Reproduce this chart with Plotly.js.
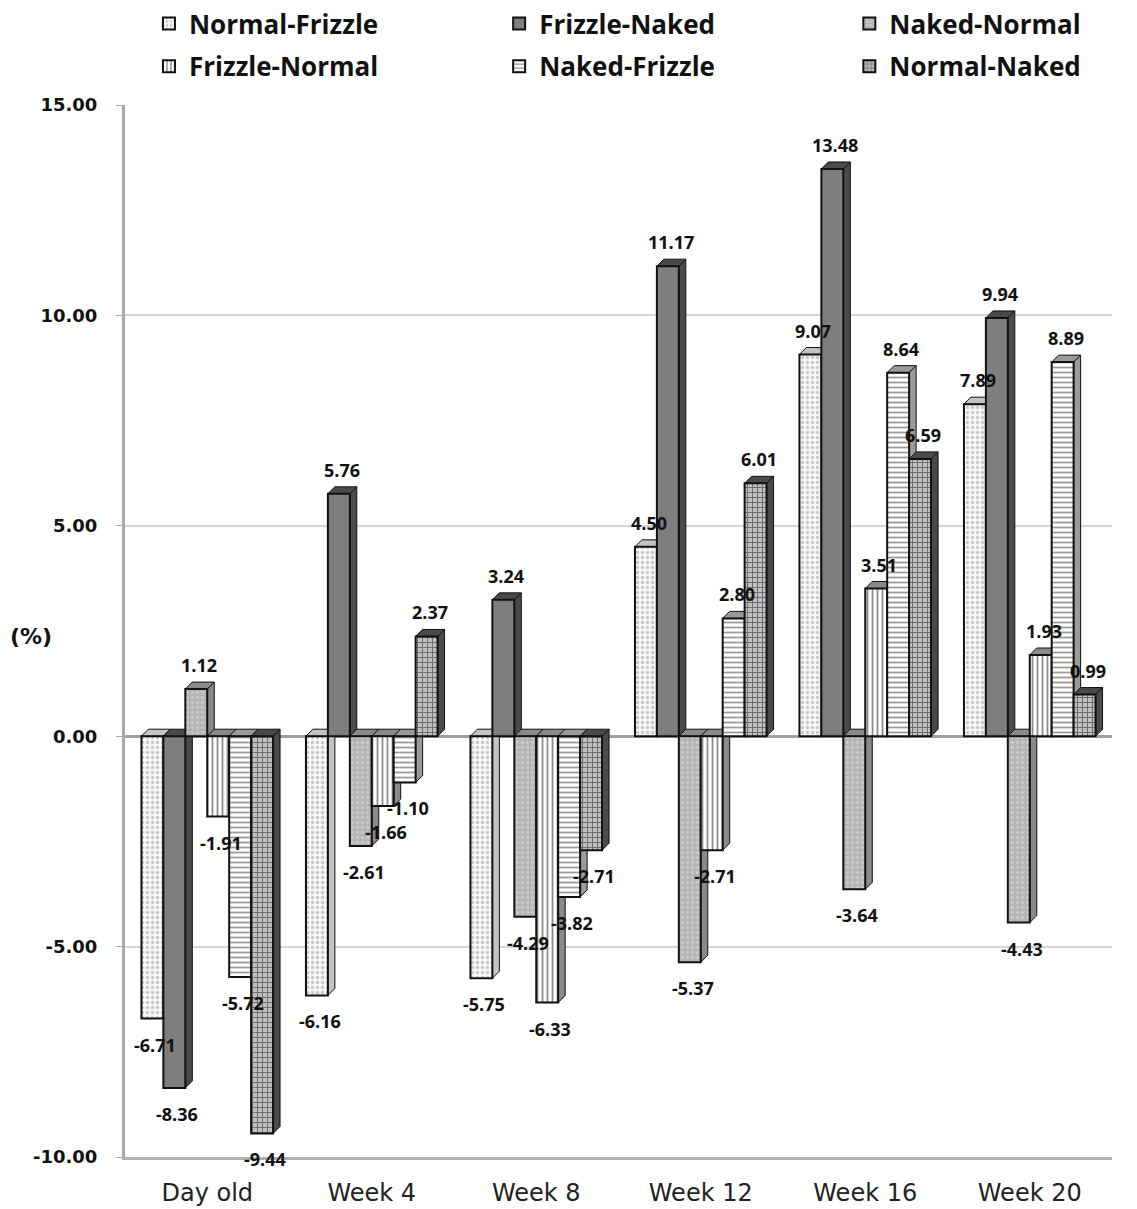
<!DOCTYPE html>
<html><head><meta charset="utf-8">
<script src="https://cdn.plot.ly/plotly-3.0.1.min.js"></script>
<style>body{margin:0;background:#fff}#c{width:1137px;height:1209px}</style>
</head><body><div id="c"></div>
<script>
var categories = ["Day old","Week 4","Week 8","Week 12","Week 16","Week 20"];
var seriesNames = ["Normal-Frizzle","Frizzle-Naked","Naked-Normal","Frizzle-Normal","Naked-Frizzle","Normal-Naked"];
var normalFrizzle = [-6.71,-6.16,-5.75,4.50,9.07,7.89];
var frizzleNaked  = [-8.36,5.76,3.24,11.17,13.48,9.94];
var nakedNormal   = [1.12,-2.61,-4.29,-5.37,-3.64,-4.43];
var frizzleNormal = [-1.91,-1.66,-6.33,-2.71,3.51,1.93];
var nakedFrizzle  = [-5.72,-1.10,-3.82,2.80,8.64,8.89];
var normalNaked   = [-9.44,2.37,-2.71,6.01,6.59,0.99];
var yTicks = [-10,-5,0,5,10,15];

var values = [normalFrizzle,frizzleNaked,nakedNormal,frizzleNormal,nakedFrizzle,normalNaked];
var legendIds = ["legend","legend2","legend3","legend","legend2","legend3"];
var styles = [
  {bg:"#f7f7f7", fg:"#c8c8c8", shape:".", side:"#c4c4c4"},
  {bg:"#7e7e7e", fg:"#7e7e7e", shape:"", side:"#4a4a4a"},
  {bg:"#b4b4b4", fg:"#c8c8c8", shape:".", side:"#8a8a8a"},
  {bg:"#ffffff", fg:"#8a8a8a", shape:"|", side:"#8a8a8a"},
  {bg:"#ffffff", fg:"#9a9a9a", shape:"-", side:"#9a9a9a"},
  {bg:"#c0c0c0", fg:"#6a6a6a", shape:"+", side:"#4a4a4a"}
];
var traces = values.map(function(v,i){
  var s = styles[i];
  return {
    type:"bar", name:seriesNames[i], x:categories, y:v,
    legend:legendIds[i], legendgroup:"g"+i,
    marker:{color:s.bg, line:{color:"#111", width:2},
      pattern:{shape:s.shape, fgcolor:s.fg, bgcolor:s.bg, size:5, solidity:0.35}},
    hoverinfo:"none"
  };
});

var shapes = [], annotations = [];
var nSer = values.length, bargap = 0.2;
var bw = (1-bargap)/nSer;
var dyUnits = 7/42.08;
values.forEach(function(v,si){
  v.forEach(function(val,ci){
    var xr = ci - (1-bargap)/2 + bw*(si+1);
    var top = Math.max(val,0), bot = Math.min(val,0);
    shapes.push({type:"path", xref:"x", yref:"y", xsizemode:"pixel", xanchor:xr,
      path:"M0,"+bot+" L7,"+(bot+dyUnits)+" L7,"+(top+dyUnits)+" L0,"+top+" Z",
      fillcolor:styles[si].side, line:{color:"#111", width:1}, layer:"between"});
  });
});
values.forEach(function(v,si){
  v.forEach(function(val,ci){
    var xr = ci - (1-bargap)/2 + bw*(si+1);
    var top = Math.max(val,0);
    shapes.push({type:"path", xref:"x", yref:"y", xsizemode:"pixel", xanchor:xr,
      path:"M-22,"+top+" L-15,"+(top+dyUnits)+" L7,"+(top+dyUnits)+" L0,"+top+" Z",
      fillcolor:styles[si].side, line:{color:"#111", width:1}, layer:"between"});
    var xc = ci - (1-bargap)/2 + bw*(si+0.5);
    annotations.push({x:xc, y:val, xref:"x", yref:"y", text:val.toFixed(2), showarrow:false,
      xanchor:"center", yanchor: val>=0 ? "bottom":"top", yshift: val>=0 ? 10 : -12, xshift:3,
      font:{family:"Open Sans", size:18, color:"#111", weight:"bold"}});
  });
});
annotations.push({text:"(%)", xref:"paper", yref:"paper", x:-0.095, y:(636-1157)/-1052, xanchor:"center", yanchor:"middle",
    showarrow:false, font:{family:"DejaVu Sans", size:22, color:"#111", weight:"bold"}});

function leg(x){
  return {orientation:"v", xref:"container", yref:"container", x:x, xanchor:"left", y:1.003, yanchor:"top",
    font:{family:"Open Sans", size:26, color:"#111", weight:"bold"}, itemwidth:30, tracegroupgap:6,
    bgcolor:"rgba(0,0,0,0)"};
}

var layout = {
  width:1137, height:1209,
  margin:{l:125, r:25, t:105, b:52, autoexpand:false},
  paper_bgcolor:"#fff", plot_bgcolor:"#fff",
  barmode:"group", bargap:bargap, bargroupgap:0,
  font:{family:"Open Sans", color:"#111"},
  xaxis:{type:"category", tickfont:{family:"DejaVu Sans", size:24, color:"#222"},
    showline:true, linecolor:"#b0b0b0", linewidth:3, ticks:"", showgrid:false, fixedrange:true,
    ticklabelstandoff:12},
  yaxis:{range:[-10,15], tickvals:yTicks, ticktext:yTicks.map(function(t){return t.toFixed(2);}),
    tickfont:{family:"DejaVu Sans", size:18, color:"#111", weight:"bold"},
    showline:true, linecolor:"#a8a8a8", linewidth:3, ticks:"outside", ticklen:6, tickcolor:"#a8a8a8",
    showgrid:true, gridcolor:"#d4d4d4", gridwidth:2, zeroline:true, zerolinecolor:"#a0a0a0", zerolinewidth:3,
    ticklabelstandoff:15},
  legend:leg(0.131), legend2:leg(0.439), legend3:leg(0.747),
  shapes:shapes,
  annotations:annotations
};
Plotly.newPlot("c", traces, layout, {staticPlot:true});
</script></body></html>
